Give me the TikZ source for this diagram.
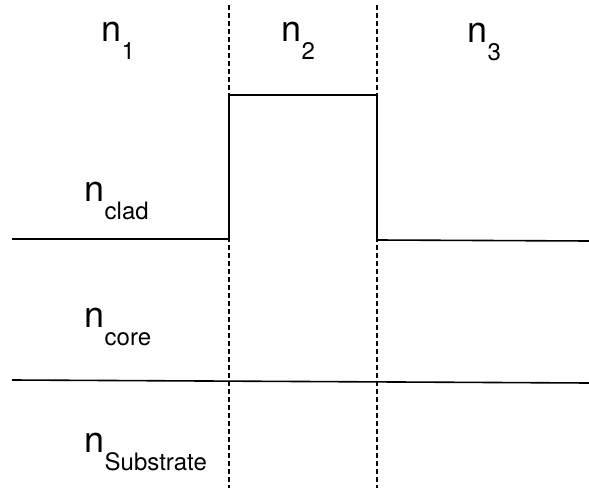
\documentclass[tikz,border=0pt]{standalone}
\usepackage{fontspec}
\setmainfont{TeX Gyre Heros}
\newcommand{\nlbl}[1]{n\raisebox{-18pt}{\fontsize{24pt}{24pt}\selectfont #1}}
\begin{document}
\begin{tikzpicture}[x=1pt,y=-1pt,
  lbl/.style={anchor=base west,inner sep=0pt,outer sep=0pt,font=\fontsize{36pt}{36pt}\selectfont},
  profile/.style={line width=1.6pt,line join=miter},
  border/.style={line width=1.5pt,dash pattern=on 5pt off 3pt}]
\useasboundingbox (0,0) rectangle (589,489);
% boundaries
\coordinate (d1t) at (229,5);
\coordinate (d1b) at (229,488);
\coordinate (d2t) at (377,5);
\coordinate (d2b) at (377,488);
\draw[border] (d1t) -- (d1b);
\draw[border] (d2t) -- (d2b);
% index profile
\coordinate (pa) at (12,239);
\coordinate (pb) at (229,239);
\coordinate (pc) at (229,95);
\coordinate (pd) at (377,95);
\coordinate (pe) at (377,240);
\coordinate (pf) at (589,241);
\draw[profile] (pa) -- (pb) -- (pc) -- (pd) -- (pe) -- (pf);
% substrate line
\coordinate (sa) at (12,380);
\coordinate (sb) at (589,383);
\draw[profile] (sa) -- (sb);
% labels
\node[lbl] (n1) at (101.7,42) {\nlbl{1}};
\node[lbl] (n2) at (281.7,42) {\nlbl{2}};
\node[lbl] (n3) at (467.7,43) {\nlbl{3}};
\node[lbl] (nclad) at (84.7,202) {\nlbl{clad}};
\node[lbl] (ncore) at (84.7,327) {\nlbl{core}};
\node[lbl] (nsub) at (84.7,452) {\nlbl{Substrate}};
\end{tikzpicture}
\end{document}
